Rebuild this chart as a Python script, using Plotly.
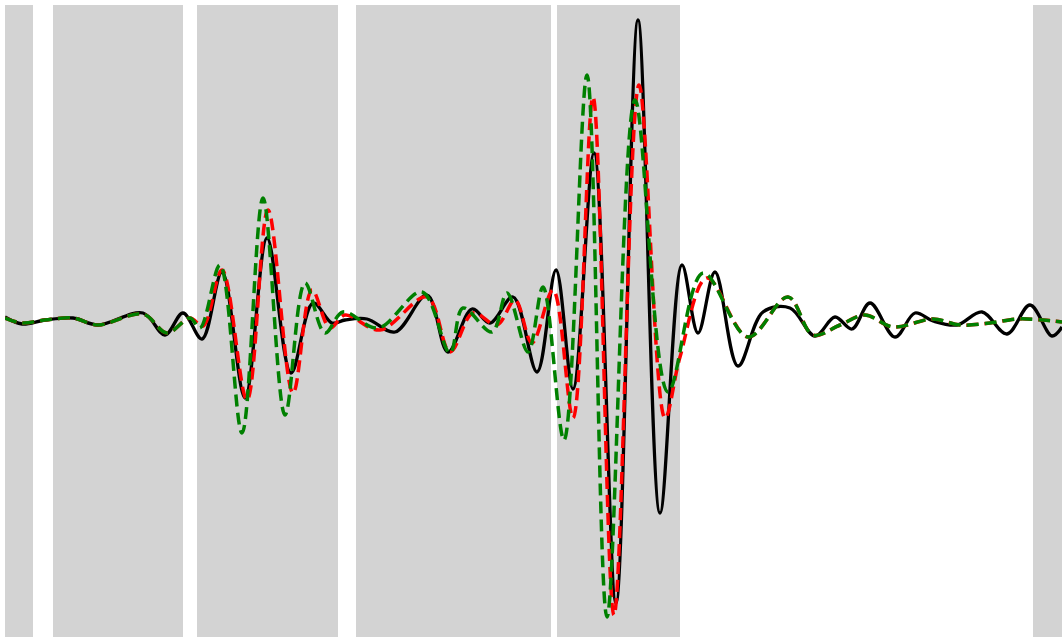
import plotly.graph_objects as go

# Sample index (time) and amplitude at the turning points of each trace.
# Amplitudes are measured upward from the resting level.
black_t = [5, 22, 45, 73, 98, 143, 165, 183, 202, 222, 245, 267, 291, 313, 332, 345,
           367, 395, 427, 448, 472, 490, 513, 537, 556, 573, 594, 616, 638, 660, 682,
           698, 715, 738, 763, 790, 815, 835, 852, 870, 895, 915, 933, 957, 982, 1007,
           1030, 1052, 1062]
black_y = [4, -3, 1, 3, -4, 8, -14, 8, -18, 49, -77, 83, -52, 18, -2, 1,
           2, -11, 26, -31, 12, -2, 24, -51, 51, -68, 168, -282, 301, -192, 56,
           -12, 49, -45, 9, 13, -15, 4, -8, 18, -16, 8, 0, -4, 9, -13,
           16, -15, -6]

red_t = [5, 22, 45, 73, 98, 143, 167, 190, 203, 222, 247, 268, 293, 312, 330, 345,
         380, 427, 450, 473, 497, 515, 532, 553, 573, 593, 614, 639, 665, 680, 707,
         748, 788, 813, 840, 865, 893, 933, 960, 990, 1017, 1043, 1062]
red_y = [3, -2, 1, 3, -4, 7, -12, 3, -5, 51, -79, 111, -72, 31, -7, 6,
         -9, 24, -31, 8, -4, 21, -22, 31, -97, 224, -294, 236, -97, -36, 43,
         -16, 24, -14, -4, 6, -6, 2, -4, -2, 2, 1, -1]

green_t = [5, 22, 45, 73, 98, 143, 167, 190, 200, 220, 242, 263, 285, 305, 325, 343,
           378, 422, 450, 463, 492, 507, 528, 543, 564, 587, 607, 635, 668, 703,
           748, 788, 813, 840, 865, 893, 933, 960, 990, 1017, 1043, 1062]
green_y = [3, -2, 1, 3, -4, 7, -12, 3, -7, 56, -112, 123, -94, 38, -12, 9,
           -7, 29, -32, 13, -11, 28, -31, 34, -119, 246, -296, 221, -71, 48,
           -16, 24, -14, -4, 6, -6, 2, -4, -2, 2, 1, -1]

# Shaded intervals along the time axis
shade_start = [5, 53, 197, 356, 557, 1033]
shade_end = [33, 183, 338, 551, 680, 1070]

fig = go.Figure()

fig.add_trace(go.Scatter(x=black_t, y=black_y, mode="lines",
                         line=dict(color="black", width=3.3, shape="spline", smoothing=1.0),
                         showlegend=False, hoverinfo="skip"))
fig.add_trace(go.Scatter(x=red_t, y=red_y, mode="lines",
                         line=dict(color="#ff0000", width=3.5, dash="12px,6px",
                                   shape="spline", smoothing=1.0),
                         showlegend=False, hoverinfo="skip"))
fig.add_trace(go.Scatter(x=green_t, y=green_y, mode="lines",
                         line=dict(color="#008000", width=3.5, dash="12px,6px",
                                   shape="spline", smoothing=1.0),
                         showlegend=False, hoverinfo="skip"))

for a, b in zip(shade_start, shade_end):
    fig.add_shape(type="rect", xref="x", yref="paper", x0=a, x1=b, y0=0, y1=1,
                  fillcolor="#d3d3d3", line=dict(width=0), layer="below")

fig.update_xaxes(range=[5, 1062], visible=False, showgrid=False, zeroline=False)
fig.update_yaxes(range=[-316, 316], visible=False, showgrid=False, zeroline=False)

fig.update_layout(
    width=1062, height=637,
    margin=dict(l=5, r=0, t=5, b=0),
    paper_bgcolor="white", plot_bgcolor="white",
    showlegend=False,
)

fig.write_html("out.html")
